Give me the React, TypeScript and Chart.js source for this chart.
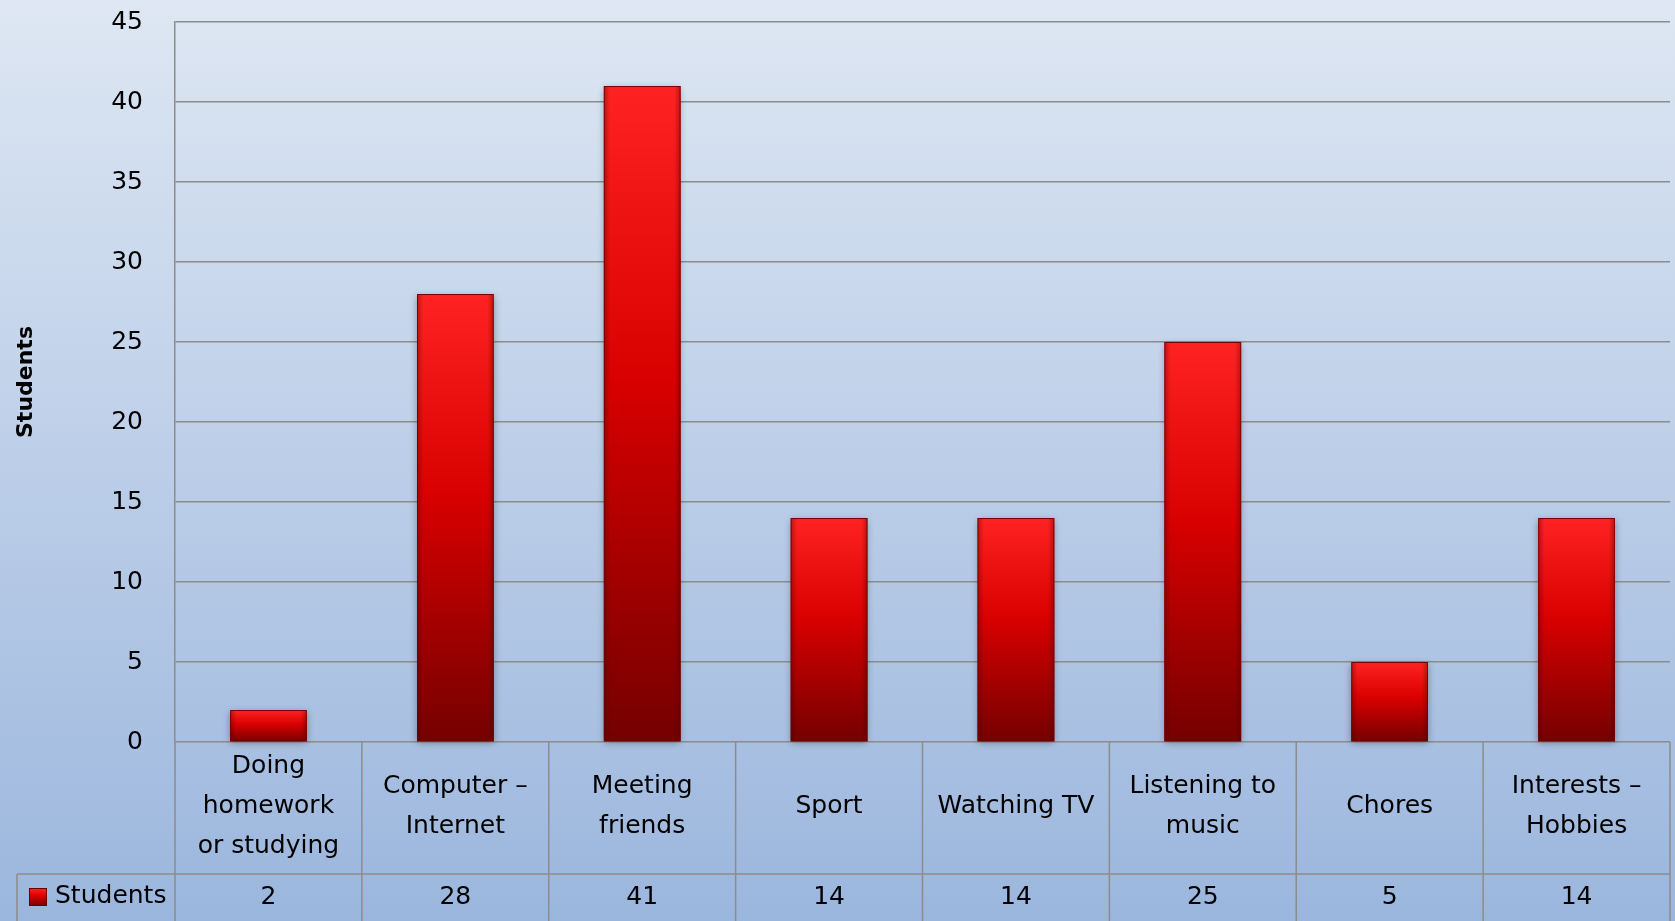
import React, { useEffect, useRef } from 'react';
import { Chart, registerables } from 'chart.js';

Chart.register(...registerables);

const categories: string[][] = [
  ['Doing', 'homework', 'or studying'],
  ['Computer –', 'Internet'],
  ['Meeting', 'friends'],
  ['Sport'],
  ['Watching TV'],
  ['Listening to', 'music'],
  ['Chores'],
  ['Interests –', 'Hobbies'],
];
const seriesName = 'Students';
const studentValues = [2, 28, 41, 14, 14, 25, 5, 14];
const yAxisTitle = 'Students';
const yMin = 0;
const yMax = 45;
const yStep = 5;

const FONT = "'DejaVu Sans', sans-serif";
const LINE = '#8c8c8c';

function barGradient(ctx: CanvasRenderingContext2D, top: number, bottom: number) {
  const g = ctx.createLinearGradient(0, top, 0, bottom);
  g.addColorStop(0, '#ff2222');
  g.addColorStop(0.45, '#d80000');
  g.addColorStop(1, '#740000');
  return g;
}

const bgPlugin = {
  id: 'bg',
  beforeDraw(chart: any) {
    const { ctx, width, height } = chart;
    const g = ctx.createLinearGradient(0, 0, 0, height);
    g.addColorStop(0, '#dee7f3');
    g.addColorStop(1, '#9bb6dd');
    ctx.save();
    ctx.fillStyle = g;
    ctx.fillRect(0, 0, width, height);
    ctx.restore();
  },
};

const barFxPlugin = {
  id: 'barfx',
  beforeDatasetsDraw(chart: any) {
    const { ctx } = chart;
    const meta = chart.getDatasetMeta(0);
    ctx.save();
    ctx.shadowColor = 'rgba(0,0,0,0.35)';
    ctx.shadowBlur = 7;
    ctx.shadowOffsetY = 2;
    ctx.fillStyle = '#700000';
    meta.data.forEach((b: any) => {
      const l = b.x - b.width / 2;
      ctx.fillRect(l, b.y, b.width, b.base - b.y);
    });
    ctx.restore();
  },
  afterDatasetsDraw(chart: any) {
    const { ctx } = chart;
    const meta = chart.getDatasetMeta(0);
    ctx.save();
    meta.data.forEach((b: any) => {
      const l = b.x - b.width / 2;
      const r = b.x + b.width / 2;
      const g = ctx.createLinearGradient(l, 0, r, 0);
      g.addColorStop(0, 'rgba(60,0,0,0.35)');
      g.addColorStop(0.08, 'rgba(60,0,0,0.0)');
      g.addColorStop(0.92, 'rgba(60,0,0,0.0)');
      g.addColorStop(1, 'rgba(60,0,0,0.35)');
      ctx.fillStyle = g;
      ctx.fillRect(l + 1, b.y + 1, b.width - 2, b.base - b.y - 2);
      ctx.strokeStyle = 'rgba(110,0,0,0.9)';
      ctx.lineWidth = 1;
      ctx.strokeRect(l + 0.5, b.y + 0.5, b.width - 1, b.base - b.y - 1);
    });
    ctx.restore();
  },
};

const tablePlugin = {
  id: 'table',
  afterDraw(chart: any) {
    const { ctx, chartArea } = chart;
    const xs = chart.scales.x;
    const n = categories.length;
    const cw = (chartArea.right - chartArea.left) / n;
    const top = chartArea.bottom;
    const rowTop = 874;
    const bottom = chart.height;
    ctx.save();
    ctx.strokeStyle = LINE;
    ctx.lineWidth = 1.5;
    ctx.beginPath();
    for (let i = 0; i <= n; i++) {
      const x = chartArea.left + i * cw;
      ctx.moveTo(x, top);
      ctx.lineTo(x, bottom);
    }
    ctx.moveTo(17, rowTop);
    ctx.lineTo(chartArea.right, rowTop);
    ctx.moveTo(17, rowTop);
    ctx.lineTo(17, bottom);
    ctx.stroke();

    ctx.fillStyle = '#000';
    ctx.font = `25px ${FONT}`;
    ctx.textAlign = 'center';
    ctx.textBaseline = 'middle';
    categories.forEach((lines, i) => {
      const cx = xs.getPixelForValue(i);
      const m = lines.length;
      lines.forEach((t, j) => {
        ctx.fillText(t, cx, 806 + (j - (m - 1) / 2) * 40);
      });
      ctx.fillText(String(studentValues[i]), cx, 897);
    });

    // legend key
    ctx.fillStyle = barGradient(ctx, 888, 906);
    ctx.fillRect(29, 888, 18, 18);
    ctx.strokeStyle = '#6a0000';
    ctx.lineWidth = 1;
    ctx.strokeRect(29.5, 888.5, 17, 17);
    ctx.fillStyle = '#000';
    ctx.textAlign = 'left';
    ctx.fillText(seriesName, 55, 896);

    // y title
    ctx.save();
    ctx.translate(26, 382);
    ctx.rotate(-Math.PI / 2);
    ctx.font = `bold 22px ${FONT}`;
    ctx.textAlign = 'center';
    ctx.textBaseline = 'middle';
    ctx.fillText(yAxisTitle, 0, 0);
    ctx.restore();
    ctx.restore();
  },
};

export default function App() {
  const ref = useRef<HTMLCanvasElement>(null);
  useEffect(() => {
    document.body.style.margin = '0';
    const canvas = ref.current!;
    const chart = new Chart(canvas, {
      type: 'bar',
      data: {
        labels: categories.map((c) => c.join(' ')),
        datasets: [
          {
            label: seriesName,
            data: studentValues,
            backgroundColor: (c: any) => {
              const ch = c.chart;
              const ys = ch.scales?.y;
              if (!ys || !ch.chartArea || c.raw === undefined) return '#d00000';
              const t = ys.getPixelForValue(c.raw);
              const b = ys.getPixelForValue(0);
              if (!isFinite(t) || !isFinite(b) || b - t < 1) return '#ff2222';
              return barGradient(ch.ctx, t, b);
            },
            borderWidth: 0,
            categoryPercentage: 1,
            barPercentage: 0.41,
          },
        ],
      },
      options: {
        animation: false,
        responsive: false,
        devicePixelRatio: 1,
        layout: { padding: { top: 22, right: 5, left: 0, bottom: 0 } },
        plugins: { legend: { display: false }, tooltip: { enabled: false }, title: { display: false } },
        scales: {
          x: {
            ticks: { display: false },
            grid: { display: false, drawTicks: false },
            border: { display: false },
            afterFit: (s: any) => {
              s.height = 179;
              s.paddingLeft = 0;
              s.paddingRight = 0;
            },
          },
          y: {
            min: yMin,
            max: yMax,
            ticks: {
              stepSize: yStep,
              padding: 32,
              color: '#000',
              font: { family: FONT, size: 25 },
            },
            grid: { color: LINE, lineWidth: 1.5, drawTicks: false },
            border: { display: true, color: LINE, width: 1.5 },
            afterFit: (s: any) => {
              s.width = 175;
              s.paddingTop = 0;
              s.paddingBottom = 0;
            },
          },
        },
      },
      plugins: [bgPlugin, barFxPlugin, tablePlugin],
    });
    return () => chart.destroy();
  }, []);
  return (
    <div style={{ position: 'fixed', left: 0, top: 0, width: 1675, height: 921 }}>
      <canvas ref={ref} width={1675} height={921} style={{ display: 'block' }} />
    </div>
  );
}
